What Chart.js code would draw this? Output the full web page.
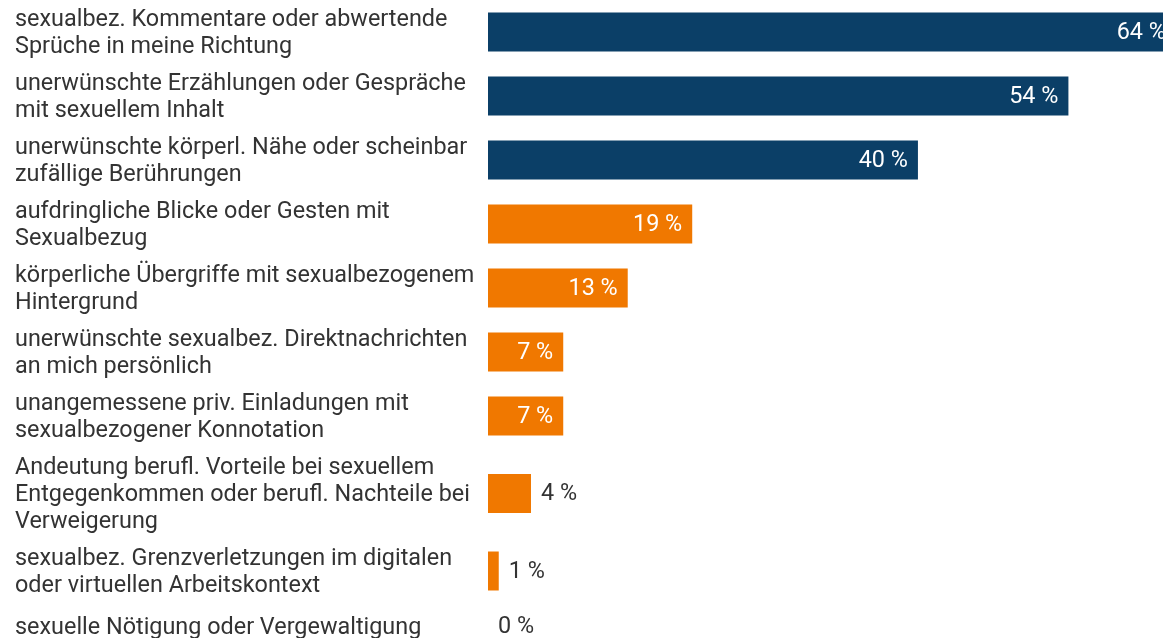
<html>
<head>
    <meta charset="utf-8">
    <style>
        body {
            margin: 0;
            background-color: white;
            overflow: hidden;
        }

        #wrap {
            width: 1163px;
            height: 638px;
            position: relative;
        }
    </style>
    <script src="https://cdn.jsdelivr.net/npm/chart.js@4.4.1/dist/chart.umd.min.js"></script>
</head>

<body>
    <div id="wrap">
        <canvas id="myChart"></canvas>
    </div>
</body>

<script>
    // categories, one entry per row, already split into label lines
    var categories = [
        ['sexualbez. Kommentare oder abwertende', 'Sprüche in meine Richtung'],
        ['unerwünschte Erzählungen oder Gespräche', 'mit sexuellem Inhalt'],
        ['unerwünschte körperl. Nähe oder scheinbar', 'zufällige Berührungen'],
        ['aufdringliche Blicke oder Gesten mit', 'Sexualbezug'],
        ['körperliche Übergriffe mit sexualbezogenem', 'Hintergrund'],
        ['unerwünschte sexualbez. Direktnachrichten', 'an mich persönlich'],
        ['unangemessene priv. Einladungen mit', 'sexualbezogener Konnotation'],
        ['Andeutung berufl. Vorteile bei sexuellem', 'Entgegenkommen oder berufl. Nachteile bei', 'Verweigerung'],
        ['sexualbez. Grenzverletzungen im digitalen', 'oder virtuellen Arbeitskontext'],
        ['sexuelle Nötigung oder Vergewaltigung']
    ];

    // share in percent
    var values = [64, 54, 40, 19, 13, 7, 7, 4, 1, 0];

    // the first three rows are highlighted in blue
    var highlightCount = 3;

    var BLUE = 'rgb(11, 63, 103)';
    var ORANGE = 'rgb(240, 120, 0)';
    var TEXT = '#333333';
    var FONT = 'Roboto, "Noto Sans", sans-serif';
    var FONT_SIZE = 23.4;

    // rows grow with the number of label lines (like the original layout)
    var LINE_HEIGHT = 27;
    var ROW_PAD = 10;
    var MIN_ROW = 36;

    var rowCenters = [];
    var runningTop = 0;
    for (var i = 0; i < categories.length; i++) {
        var rowHeight = Math.max(categories[i].length * LINE_HEIGHT, MIN_ROW) + ROW_PAD;
        rowCenters.push(runningTop + rowHeight / 2);
        runningTop = runningTop + rowHeight;
    }

    var barData = values.map(function (v, i) {
        return { x: v, y: rowCenters[i] };
    });

    var barColors = values.map(function (v, i) {
        return i < highlightCount ? BLUE : ORANGE;
    });

    // value labels: inside the bar (white) when there is room, else right of it
    var valueLabelPlugin = {
        id: 'valueLabels',
        afterDatasetsDraw: function (chart) {
            var ctx = chart.ctx;
            var meta = chart.getDatasetMeta(0);
            var xScale = chart.scales.x;
            ctx.save();
            ctx.font = FONT_SIZE + 'px ' + FONT;
            ctx.textBaseline = 'middle';
            meta.data.forEach(function (bar, index) {
                var text = values[index] + ' %';
                var endX = xScale.getPixelForValue(values[index]);
                var barWidth = endX - xScale.left;
                var textWidth = ctx.measureText(text).width;
                if (barWidth > textWidth + 20) {
                    ctx.fillStyle = 'white';
                    ctx.textAlign = 'right';
                    ctx.fillText(text, endX - 10, bar.y + 1);
                } else {
                    ctx.fillStyle = TEXT;
                    ctx.textAlign = 'left';
                    ctx.fillText(text, endX + 10, bar.y + 1);
                }
            });
            ctx.restore();
        }
    };

    var paintingCanvas = document.getElementById('myChart').getContext('2d');
    var chart = new Chart(paintingCanvas, {
        type: 'bar',
        data: {
            datasets: [
                {
                    data: barData,
                    backgroundColor: barColors,
                    borderWidth: 0,
                    inflateAmount: 0,
                    barThickness: 39
                }
            ]
        },
        options: {
            indexAxis: 'y',
            responsive: true,
            maintainAspectRatio: false,
            animation: false,
            devicePixelRatio: 1,
            layout: {
                padding: { left: 15, right: 0, top: 0, bottom: 0 }
            },
            plugins: {
                legend: { display: false },
                tooltip: { enabled: false }
            },
            scales: {
                x: {
                    type: 'linear',
                    display: false,
                    min: 0,
                    max: 62.8
                },
                y: {
                    type: 'linear',
                    reverse: true,
                    offset: false,
                    min: 0,
                    max: 638,
                    grid: { display: false, offset: false },
                    border: { display: false },
                    afterBuildTicks: function (scale) {
                        scale.ticks = rowCenters.map(function (c) { return { value: c }; });
                    },
                    afterFit: function (scale) {
                        scale.width = 473;
                        scale.paddingTop = 0;
                        scale.paddingBottom = 0;
                    },
                    ticks: {
                        autoSkip: false,
                        crossAlign: 'far',
                        labelOffset: 2,
                        color: TEXT,
                        font: { family: FONT, size: FONT_SIZE, lineHeight: LINE_HEIGHT / FONT_SIZE },
                        callback: function (value, index) {
                            return categories[index];
                        }
                    }
                }
            }
        },
        plugins: [valueLabelPlugin]
    });
</script>

</html>
